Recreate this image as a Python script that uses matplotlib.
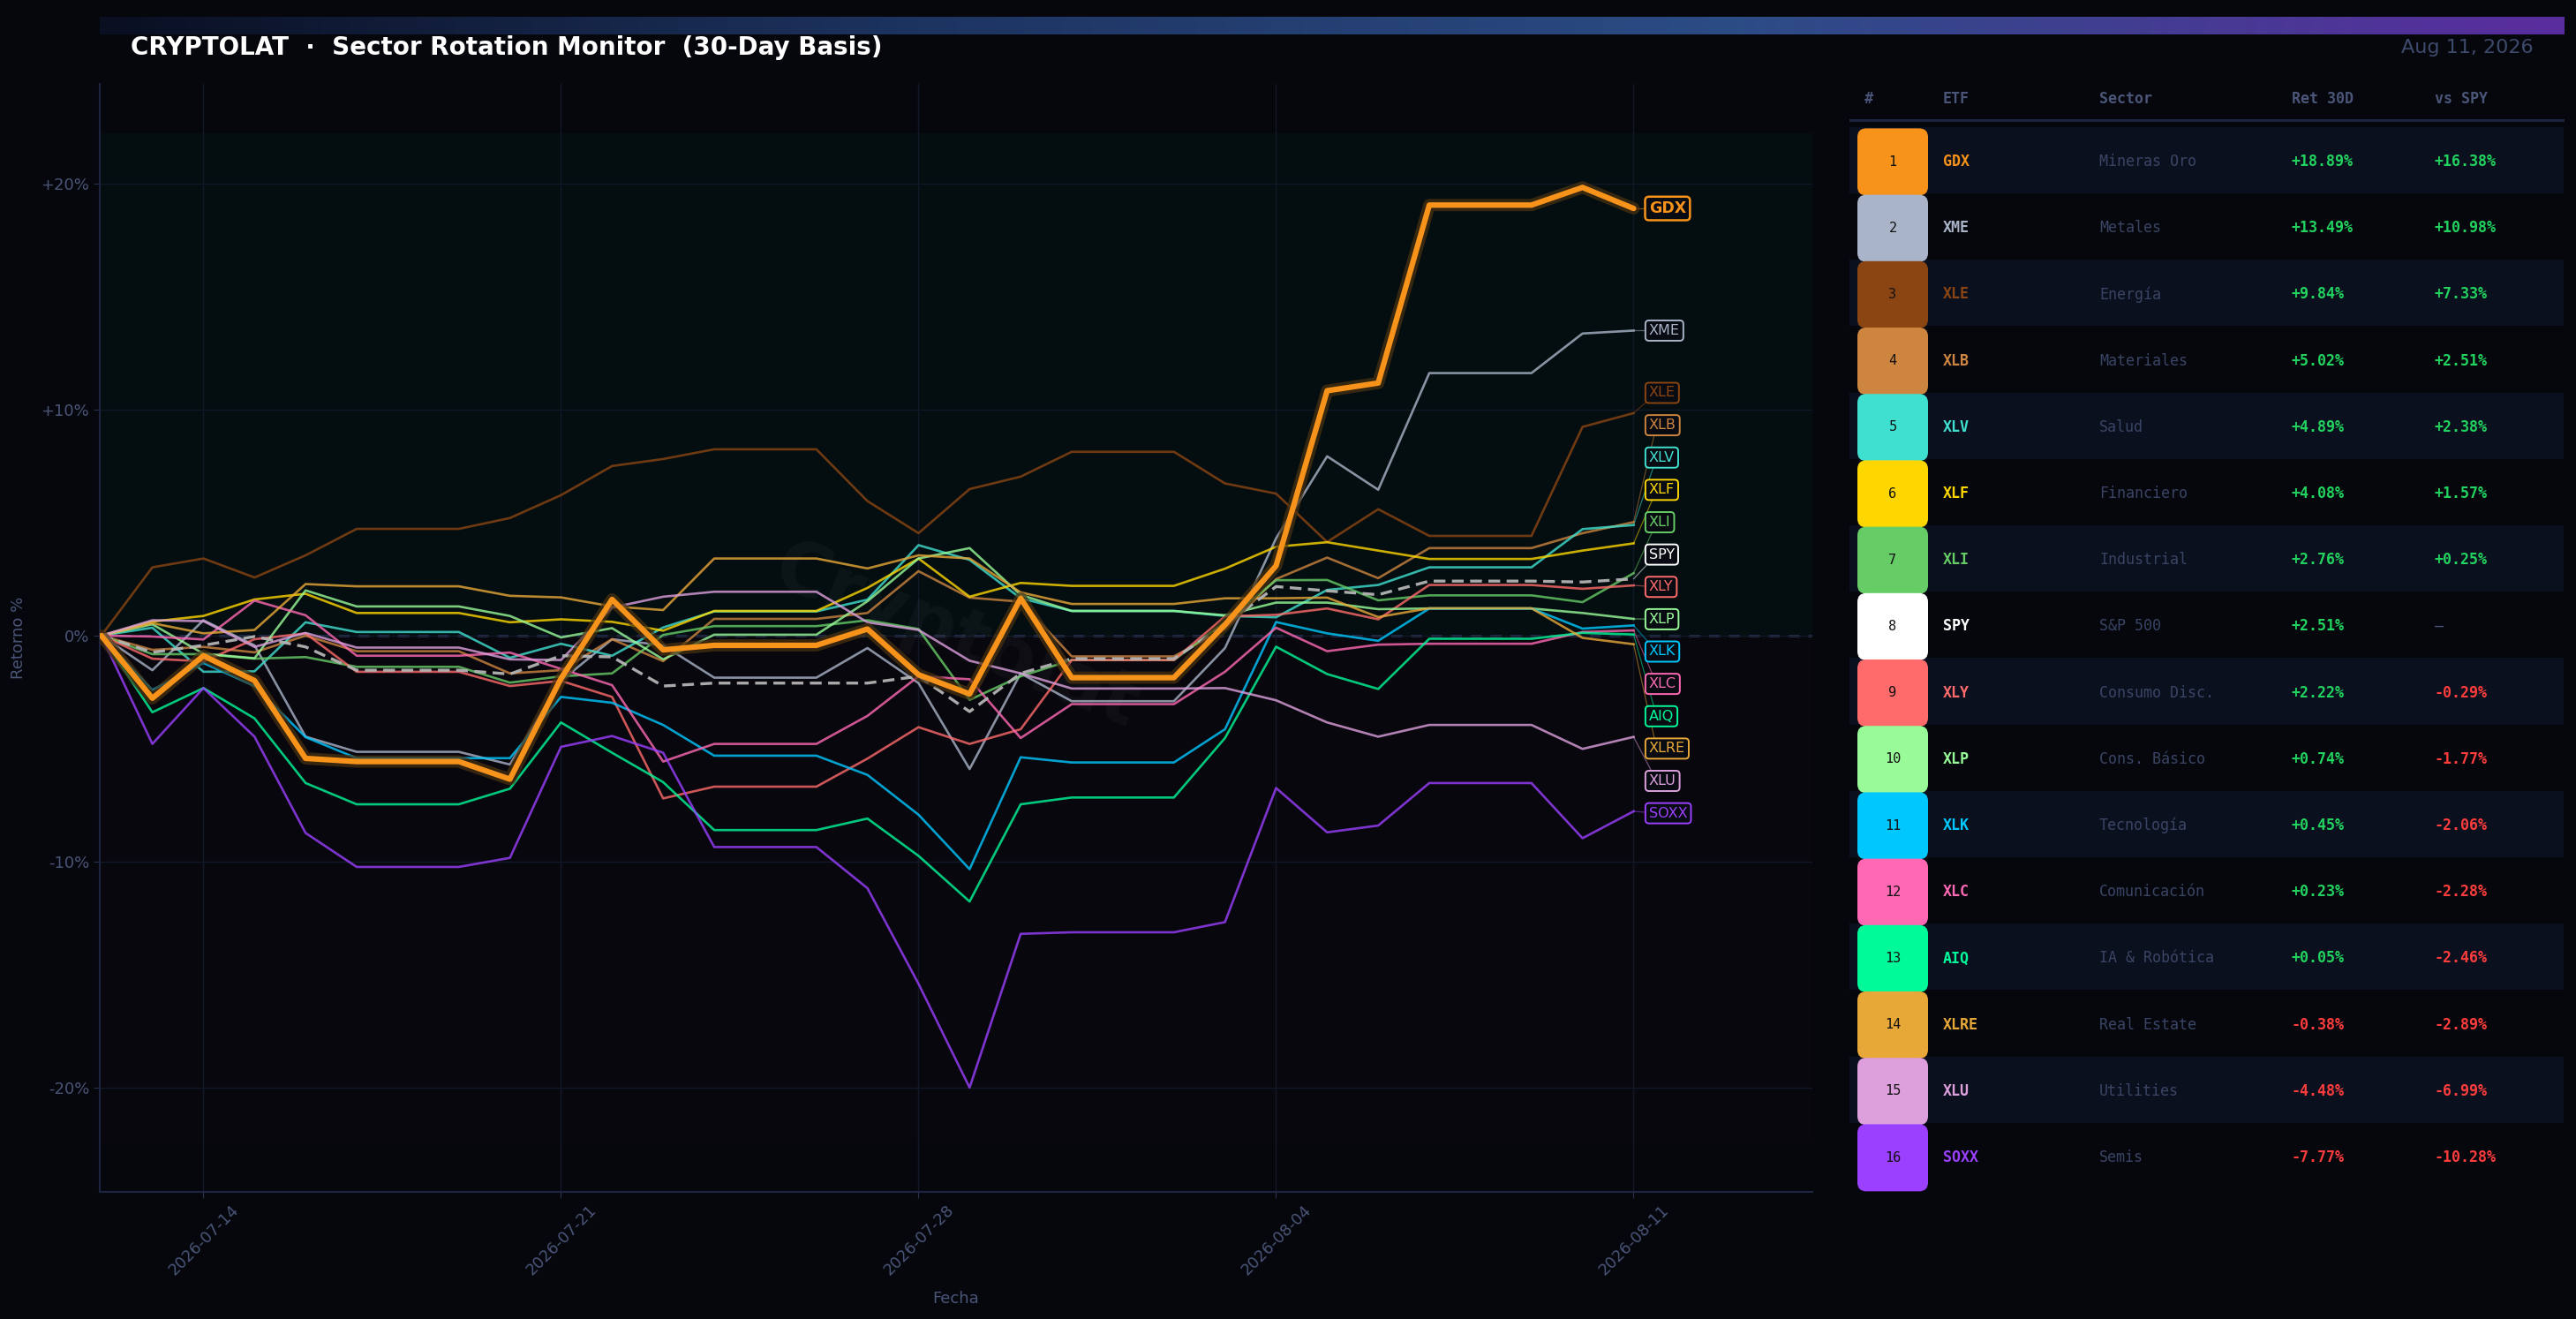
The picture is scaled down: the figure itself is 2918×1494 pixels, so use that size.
import numpy as np
import pandas as pd
import matplotlib
matplotlib.use("Agg")
import matplotlib.pyplot as plt
import matplotlib.dates as mdates
import matplotlib.patheffects as pe
from matplotlib.patches import FancyBboxPatch, Rectangle
from matplotlib.colors import LinearSegmentedColormap
from matplotlib.ticker import FuncFormatter

# --- data (30-day cumulative return, %, weekends carried forward) ---
dates = pd.date_range("2026-07-12", "2026-08-11", freq="D")

gdx = [0, -2.77, -0.89, -1.99, -5.43, -5.57, -5.57, -5.57, -6.35, -1.9, 1.6, -0.63, -0.43, -0.43, -0.43,
       0.29, -1.73, -2.58, 1.65, -1.86, -1.86, -1.86, 0.48, 3.09, 10.83, 11.17, 19.04, 19.04, 19.04, 19.82, 18.89]
xme = [0, -1.53, 0.68, -0.43, -4.47, -5.14, -5.14, -5.14, -5.7, -2.0, -0.16, -0.43, -1.86, -1.86, -1.86,
       -0.55, -2.1, -5.9, -1.67, -2.9, -2.9, -2.9, -0.55, 4.3, 7.93, 6.45, 11.61, 11.61, 11.61, 13.36, 13.49]
xle = [0, 3.02, 3.41, 2.57, 3.55, 4.72, 4.72, 4.72, 5.2, 6.21, 7.5, 7.81, 8.24, 8.24, 8.24,
       5.95, 4.53, 6.48, 7.03, 8.13, 8.13, 8.13, 6.73, 6.28, 4.14, 5.59, 4.41, 4.41, 4.41, 9.23, 9.84]
xlb = [0, -0.63, -0.5, -0.74, 0.0, -0.69, -0.69, -0.69, -1.67, -1.53, -0.16, -1.13, 0.74, 0.74, 0.74,
       1.0, 2.85, 1.68, 1.5, -0.92, -0.92, -0.92, 0.3, 2.5, 3.45, 2.54, 3.87, 3.87, 3.87, 4.53, 5.02]
xlv = [0, 0.35, -1.6, -1.58, 0.59, 0.16, 0.16, 0.16, -0.98, -0.36, -0.89, 0.36, 1.07, 1.07, 1.07,
       1.59, 4.0, 3.35, 1.65, 1.09, 1.09, 1.09, 0.87, 0.81, 2.02, 2.24, 3.02, 3.02, 3.02, 4.71, 4.89]
xlf = [0, 0.62, 0.87, 1.6, 1.85, 1.0, 1.0, 1.0, 0.59, 0.72, 0.61, 0.22, 1.09, 1.09, 1.09,
       2.11, 3.41, 1.72, 2.33, 2.2, 2.2, 2.2, 2.96, 3.93, 4.13, 3.76, 3.39, 3.39, 3.39, 3.76, 4.08]
xli = [0, -0.82, -0.82, -1.02, -0.95, -1.38, -1.38, -1.38, -2.08, -1.8, -1.67, 0.03, 0.42, 0.42, 0.42,
       0.68, 0.29, -2.84, -1.8, -1.08, -1.08, -1.08, 0.6, 2.45, 2.46, 1.56, 1.78, 1.78, 1.78, 1.48, 2.76]
spy = [0, -0.74, -0.43, -0.04, -0.5, -1.53, -1.53, -1.53, -1.7, -0.89, -0.94, -2.23, -2.1, -2.1, -2.1,
       -2.1, -1.8, -3.36, -1.67, -1.02, -1.02, -1.02, 0.48, 2.17, 1.98, 1.81, 2.41, 2.41, 2.41, 2.37, 2.51]
xly = [0, -1.02, -1.14, -0.16, 0.1, -1.6, -1.6, -1.6, -2.23, -2.0, -2.71, -7.2, -6.68, -6.68, -6.68,
       -5.44, -4.05, -4.79, -4.14, -1.08, -1.08, -1.08, 0.85, 0.92, 1.2, 0.72, 2.24, 2.24, 2.24, 2.07, 2.22]
xlp = [0, 0.5, -0.8, -1.0, 2.0, 1.29, 1.29, 1.29, 0.87, -0.08, 0.33, -1.05, 0.04, 0.04, 0.04,
       1.52, 3.41, 3.87, 1.8, 1.09, 1.09, 1.09, 0.9, 1.46, 1.46, 1.17, 1.2, 1.2, 1.2, 1.0, 0.74]
xlk = [0, -2.41, -1.21, -2.23, -4.49, -5.42, -5.42, -5.42, -5.42, -2.71, -2.97, -3.95, -5.31, -5.31, -5.31,
       -6.16, -7.92, -10.33, -5.38, -5.61, -5.61, -5.61, -4.14, 0.6, 0.1, -0.23, 1.2, 1.2, 1.2, 0.31, 0.45]
xlc = [0, -0.04, -0.17, 1.55, 0.9, -0.89, -0.89, -0.89, -0.75, -1.47, -2.19, -5.57, -4.79, -4.79, -4.79,
       -3.55, -1.8, -1.93, -4.53, -3.03, -3.03, -3.03, -1.6, 0.35, -0.69, -0.4, -0.36, -0.36, -0.36, 0.16, 0.23]
aiq = [0, -3.39, -2.32, -3.66, -6.52, -7.46, -7.46, -7.46, -6.77, -3.84, -5.18, -6.48, -8.6, -8.6, -8.6,
       -8.09, -9.74, -11.76, -7.46, -7.16, -7.16, -7.16, -4.53, -0.49, -1.7, -2.36, -0.14, -0.14, -0.14, 0.12, 0.05]
xlre = [0, 0.55, 0.1, 0.25, 2.28, 2.18, 2.18, 2.18, 1.76, 1.69, 1.29, 1.13, 3.41, 3.41, 3.41,
        2.97, 3.55, 3.41, 1.91, 1.4, 1.4, 1.4, 1.65, 1.65, 1.68, 0.82, 1.21, 1.21, 1.21, -0.1, -0.38]
xlu = [0, 0.68, 0.64, -0.5, 0.12, -0.53, -0.53, -0.53, -1.05, -1.08, 1.24, 1.72, 1.94, 1.94, 1.94,
       0.59, 0.25, -1.11, -1.67, -2.34, -2.34, -2.34, -2.32, -2.86, -3.84, -4.47, -3.95, -3.95, -3.95, -5.01, -4.48]
soxx = [0, -4.79, -2.32, -4.47, -8.73, -10.23, -10.23, -10.23, -9.83, -4.92, -4.44, -5.18, -9.35, -9.35, -9.35,
        -11.17, -15.4, -19.99, -13.19, -13.12, -13.12, -13.12, -12.67, -6.74, -8.7, -8.4, -6.52, -6.52, -6.52, -8.96, -7.77]

# ranking table (sorted by 30D return)
etfs = ["GDX", "XME", "XLE", "XLB", "XLV", "XLF", "XLI", "SPY",
        "XLY", "XLP", "XLK", "XLC", "AIQ", "XLRE", "XLU", "SOXX"]
sectors = ["Mineras Oro", "Metales", "Energía", "Materiales", "Salud", "Financiero", "Industrial", "S&P 500",
           "Consumo Disc.", "Cons. Básico", "Tecnología", "Comunicación", "IA & Robótica", "Real Estate",
           "Utilities", "Semis"]
ret30 = [18.89, 13.49, 9.84, 5.02, 4.89, 4.08, 2.76, 2.51, 2.22, 0.74, 0.45, 0.23, 0.05, -0.38, -4.48, -7.77]
colors = ["#F7931A", "#A9B4C8", "#8B4513", "#CD853F", "#40E0D0", "#FFD700", "#66CC66", "#FFFFFF",
          "#FF6B6B", "#98FB98", "#00C8FF", "#FF69B4", "#00FA9A", "#E8A838", "#DDA0DD", "#9B40FF"]

series = {"GDX": gdx, "XME": xme, "XLE": xle, "XLB": xlb, "XLV": xlv, "XLF": xlf, "XLI": xli, "SPY": spy,
          "XLY": xly, "XLP": xlp, "XLK": xlk, "XLC": xlc, "AIQ": aiq, "XLRE": xlre, "XLU": xlu, "SOXX": soxx}
spy_ret = ret30[etfs.index("SPY")]

BG = "#05070d"
MUTED = "#4a5578"
DIM = "#3a4565"
GREEN = "#22d35f"
RED = "#ff3d3d"
MONO = "DejaVu Sans Mono"

fig = plt.figure(figsize=(29.18, 14.94), dpi=100, facecolor=BG)

# gradient strip on top
ax_bar = fig.add_axes([113 / 2918, 1 - 39 / 1494, 2792 / 2918, 20 / 1494])
grad = LinearSegmentedColormap.from_list("bar", ["#0a0f22", "#1d3461", "#2c4c86", "#5a2d9e"])
ax_bar.imshow(np.linspace(0, 1, 256).reshape(1, -1), aspect="auto", cmap=grad)
ax_bar.axis("off")

fig.text(148 / 2918, 1 - 54 / 1494, "CRYPTOLAT  ·  Sector Rotation Monitor  (30-Day Basis)",
         color="white", fontsize=20, fontweight="bold", va="center", ha="left")
fig.text(2870 / 2918, 1 - 54 / 1494, "Aug 11, 2026", color="#3d4a6b", fontsize=16, va="center", ha="right")

# --- main chart ---
ax = fig.add_axes([113 / 2918, 1 - 1350 / 1494, 1940 / 2918, 1255 / 1494])
ax.set_facecolor(BG)
ax.axhspan(0, 22.2, color="#00ff88", alpha=0.03, lw=0, zorder=0)
ax.axhspan(-22.4, 0, color="#ff3355", alpha=0.02, lw=0, zorder=0)
ax.axhline(0, color="#34426a", lw=1.8, ls=(0, (5, 4)), zorder=1)

for name, col in zip(etfs, colors):
    vals = series[name]
    if name == "GDX":
        ax.plot(dates, vals, color=col, lw=4.5, zorder=8, solid_capstyle="round",
                path_effects=[pe.Stroke(linewidth=10, foreground="#4a3210", alpha=0.7), pe.Normal()])
    elif name == "SPY":
        ax.plot(dates, vals, color="#b4b4b4", lw=2.4, ls=(0, (4, 2.2)), zorder=6, alpha=0.95)
    else:
        ax.plot(dates, vals, color=col, lw=1.9, alpha=0.8, zorder=4)

xn = mdates.date2num(dates)
x_end = xn[-1]
x_lab = x_end + 0.3
ax.set_xlim(xn[0] - 0.03, x_end + 3.5)
ax.set_ylim(-24.6, 24.4)

# label de-overlap: merge clusters, keep each cluster centred on its members
gap = 1.43
order = sorted(range(len(etfs)), key=lambda k: -ret30[k])
clusters = [[k] for k in order]


def cluster_pos(cl):
    c = np.mean([ret30[k] for k in cl])
    top = c + gap * (len(cl) - 1) / 2
    return [top - gap * j for j in range(len(cl))]


merged = True
while merged:
    merged = False
    for c in range(len(clusters) - 1):
        if cluster_pos(clusters[c])[-1] - cluster_pos(clusters[c + 1])[0] < gap:
            clusters[c] = clusters[c] + clusters[c + 1]
            del clusters[c + 1]
            merged = True
            break

label_y = {}
for cl in clusters:
    for k, yv in zip(cl, cluster_pos(cl)):
        label_y[k] = yv

for k, (name, col) in enumerate(zip(etfs, colors)):
    ly = label_y[k]
    ax.plot([x_end, x_lab + 0.15], [ret30[k], ly], color=col, lw=0.9, alpha=0.5, zorder=3)
    bold = name == "GDX"
    ax.text(x_lab, ly, name, color=col, fontsize=12.5 if bold else 11.5, fontweight="bold" if bold else "normal",
            va="center", ha="left", zorder=10,
            bbox=dict(boxstyle="round,pad=0.25", fc="#080b12", ec=col, lw=1.8 if bold else 1.4))

# watermark
ax.text(0.5, 0.5, "Cryptolat", transform=ax.transAxes, fontsize=60, fontweight="bold",
        color="white", alpha=0.035, rotation=-22, ha="center", va="center", zorder=2)

ax.set_xticks(pd.date_range("2026-07-14", periods=5, freq="7D"))
ax.xaxis.set_major_formatter(mdates.DateFormatter("%Y-%m-%d"))
ax.set_yticks([-20, -10, 0, 10, 20])
ax.yaxis.set_major_formatter(FuncFormatter(lambda v, p: "0%" if v == 0 else f"{v:+.0f}%"))
ax.tick_params(colors="#2a3350", labelcolor=MUTED, labelsize=13, length=5)
plt.setp(ax.get_xticklabels(), rotation=45)
ax.grid(True, color="#121826", lw=1, zorder=0)
for s in ["top", "right"]:
    ax.spines[s].set_visible(False)
for s in ["left", "bottom"]:
    ax.spines[s].set_color("#1e2540")
    ax.spines[s].set_linewidth(1.5)
ax.set_xlabel("Fecha", color=MUTED, fontsize=13, labelpad=10)
ax.set_ylabel("Retorno %", color=MUTED, fontsize=13, labelpad=12)

# --- ranking table ---
row_h = 75.2
ax_t = fig.add_axes([2095 / 2918, 0, 810 / 2918, 1])
ax_t.set_xlim(2095, 2905)
ax_t.set_ylim((1494 - 183) / row_h, -183 / row_h)
ax_t.axis("off")

head_y = (112 - 183) / row_h
for xh, h in zip([2112, 2201, 2378, 2596, 2758], ["#", "ETF", "Sector", "Ret 30D", "vs SPY"]):
    ax_t.text(xh, head_y, h, color=MUTED, fontsize=12, fontweight="bold", family=MONO, va="center", ha="left")
ax_t.plot([2095, 2904], [(136 - 183) / row_h] * 2, color="#1e2540", lw=2.2)

for k, (name, sec, r, col) in enumerate(zip(etfs, sectors, ret30, colors)):
    if k % 2 == 0:
        ax_t.add_patch(Rectangle((2095, k - 0.52), 809, 1.0, fc="#0b101e", ec="none", zorder=0))
    ax_t.add_patch(FancyBboxPatch((2104, k - 0.5), 80, 1.01, boxstyle="round,pad=0,rounding_size=10",
                                  mutation_aspect=1 / row_h, fc=col, ec="none", zorder=1))
    ax_t.text(2144, k, str(k + 1), color="#111111", fontsize=11, family=MONO, ha="center", va="center", zorder=2)
    ax_t.text(2201, k, name, color=col, fontsize=12, fontweight="bold", family=MONO, va="center", zorder=2)
    ax_t.text(2378, k, sec, color=DIM, fontsize=12, family=MONO, va="center", zorder=2)
    ax_t.text(2596, k, f"{r:+.2f}%", color=GREEN if r >= 0 else RED, fontsize=12, fontweight="bold",
              family=MONO, va="center", zorder=2)
    if name == "SPY":
        ax_t.text(2758, k, "—", color=MUTED, fontsize=12, family=MONO, va="center", zorder=2)
    else:
        d = r - spy_ret
        ax_t.text(2758, k, f"{d:+.2f}%", color=GREEN if d >= 0 else RED, fontsize=12, fontweight="bold",
                  family=MONO, va="center", zorder=2)

fig.savefig("out.png", dpi=100, facecolor=BG)
